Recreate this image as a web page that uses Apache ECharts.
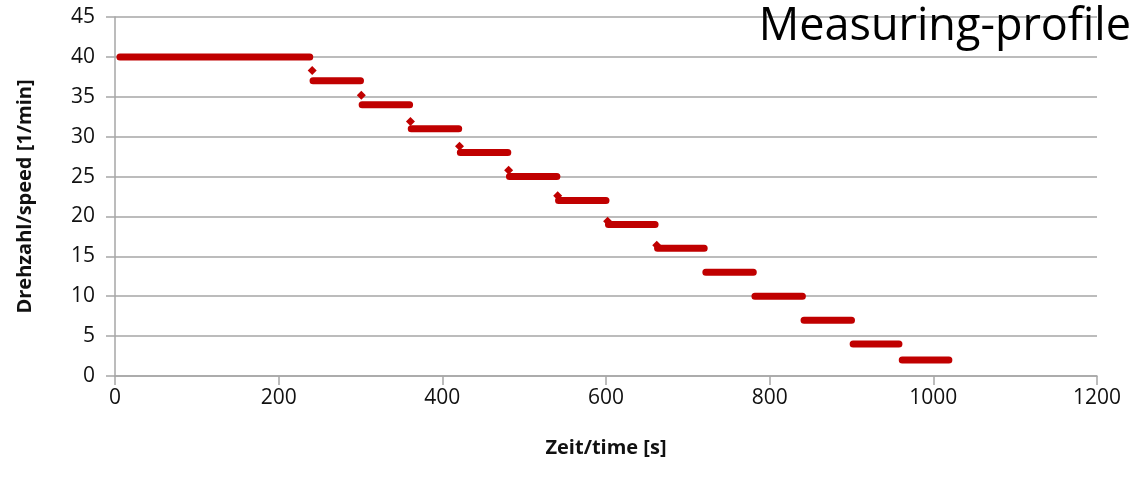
<!DOCTYPE html>
<html>
<head>
<meta charset="utf-8">
<script src="https://cdn.jsdelivr.net/npm/echarts@6/dist/echarts.min.js"></script>
<style>
  html, body { margin: 0; padding: 0; background: #fff; }
  #main { width: 1139px; height: 492px; }
</style>
</head>
<body>
<div id="main"></div>
<script>
// speed levels of the profile, with start/end time of each level [s]
var levels = [40, 37, 34, 31, 28, 25, 22, 19, 16, 13, 10, 7, 4, 2];
var stepStart = [6, 242, 302, 362, 422, 482, 542, 603, 663, 722, 782, 842, 902, 962];
var stepEnd = [238, 300, 360, 420, 480, 540, 600, 660, 720, 780, 840, 900, 958, 1019];

// single samples seen between two levels
var transX = [241, 301, 361, 421, 481, 541, 602, 662];
var transY = [38.3, 35.2, 31.9, 28.8, 25.8, 22.6, 19.4, 16.4];

var xTicks = [0, 200, 400, 600, 800, 1000, 1200];
var yTicks = [0, 5, 10, 15, 20, 25, 30, 35, 40, 45];

var red = '#c00000';
var grey = '#a6a6a6';

var stepData = [];
for (var i = 0; i < levels.length; i++) {
	stepData.push([stepStart[i], levels[i]]);
	stepData.push([stepEnd[i], levels[i]]);
	stepData.push([stepEnd[i], '-']); // break between steps
}
var transData = [];
for (var j = 0; j < transX.length; j++) {
	transData.push([transX[j], transY[j]]);
}

var myChart = echarts.init(document.getElementById('main'));

var option = {
	animation : false,
	title : {
		text : 'Measuring-profile',
		right : 3,
		top : 0,
		textStyle : {
			fontFamily : 'Open Sans',
			fontSize : 45,
			fontWeight : 'normal',
			color : '#000'
		}
	},
	grid : {
		left : 115,
		right : 42,
		top : 17,
		bottom : 116
	},
	xAxis : {
		type : 'value',
		min : xTicks[0],
		max : xTicks[xTicks.length - 1],
		interval : 200,
		name : 'Zeit/time [s]',
		nameLocation : 'middle',
		nameGap : 62,
		nameTextStyle : {
			fontFamily : 'Open Sans',
			fontSize : 20,
			fontWeight : 'bold',
			color : '#111'
		},
		axisLine : { lineStyle : { color : grey, width : 1.5 } },
		axisTick : { show : true, length : 9, lineStyle : { color : grey, width : 1.5 } },
		axisLabel : {
			margin : 12,
			fontFamily : 'Open Sans',
			fontSize : 21,
			color : '#111',
			formatter : function(v) { return String(v); }
		},
		splitLine : { show : false }
	},
	yAxis : {
		type : 'value',
		min : yTicks[0],
		max : yTicks[yTicks.length - 1],
		interval : 5,
		name : 'Drehzahl/speed [1/min]',
		nameLocation : 'middle',
		nameGap : 80,
		nameTextStyle : {
			fontFamily : 'Open Sans',
			fontSize : 20,
			fontWeight : 'bold',
			color : '#111'
		},
		axisLine : { show : true, lineStyle : { color : grey, width : 1.5 } },
		axisTick : { show : true, length : 9, lineStyle : { color : grey, width : 1.5 } },
		axisLabel : {
			margin : 20,
			fontFamily : 'Open Sans',
			fontSize : 21,
			color : '#111'
		},
		splitLine : { show : true, lineStyle : { color : grey, width : 1.5 } }
	},
	series : [ {
		name : 'steps',
		type : 'line',
		data : stepData,
		connectNulls : false,
		showSymbol : false,
		symbol : 'none',
		lineStyle : { color : red, width : 7, cap : 'round' }
	}, {
		name : 'transition',
		type : 'scatter',
		data : transData,
		symbol : 'diamond',
		symbolSize : 9,
		itemStyle : { color : red, opacity : 1 }
	} ]
};

myChart.setOption(option, true);
</script>
</body>
</html>
